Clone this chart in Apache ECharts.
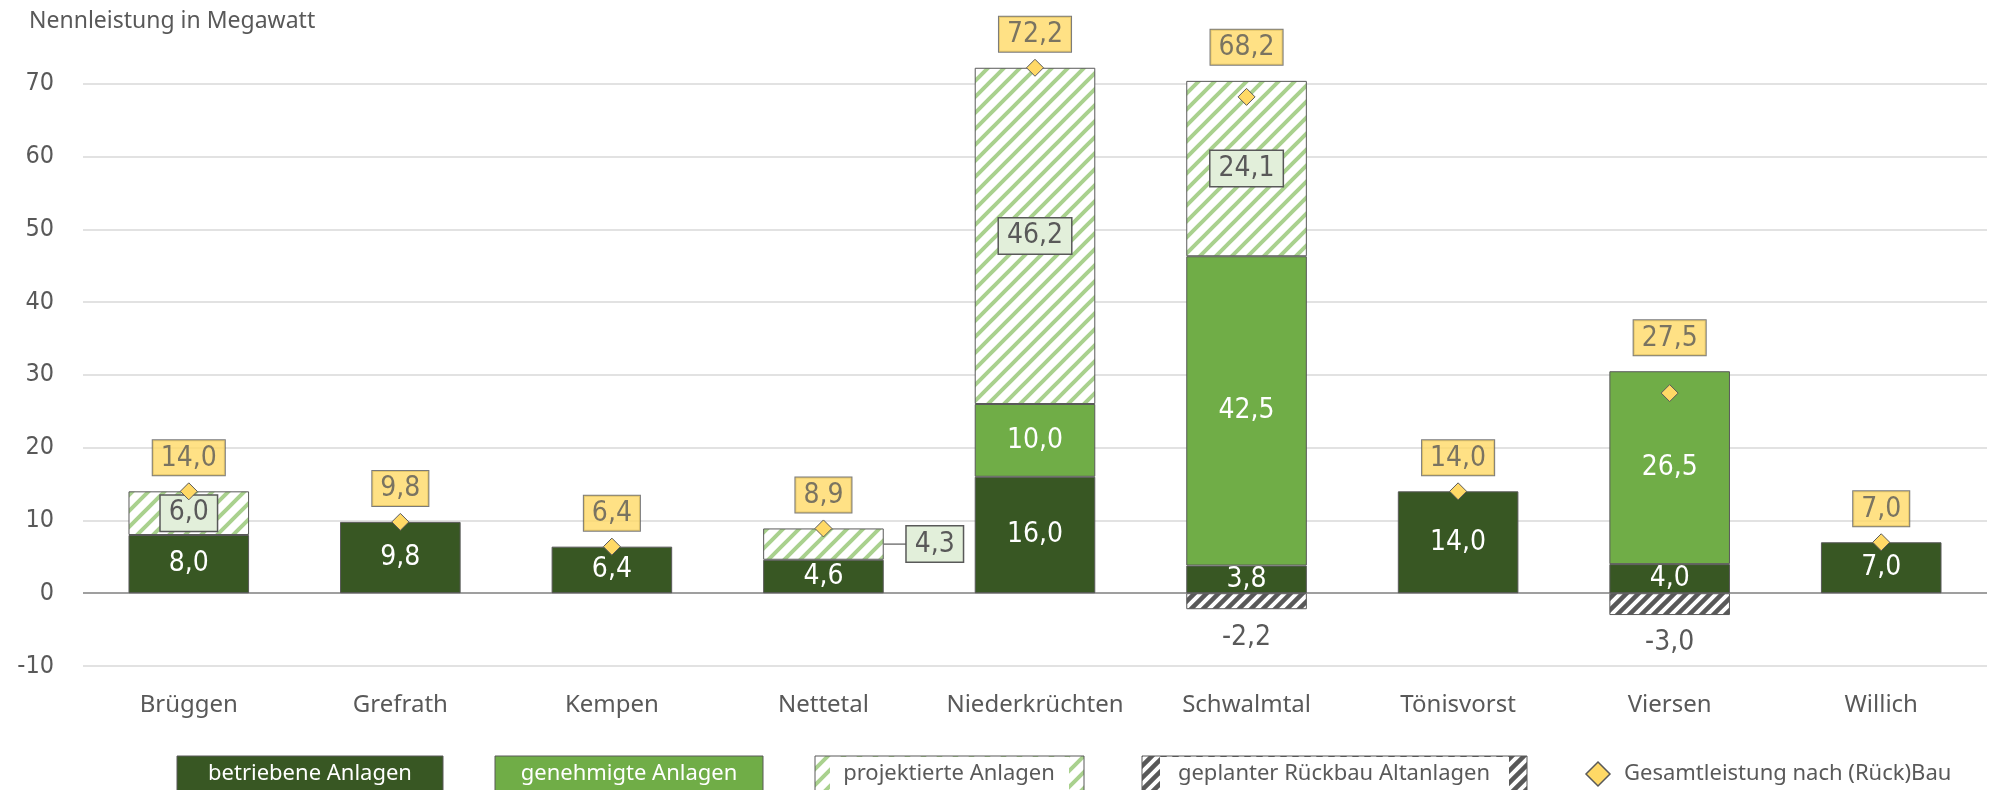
<!DOCTYPE html>
<html><head><meta charset="utf-8">
<script src="https://cdn.jsdelivr.net/npm/echarts@6/dist/echarts.min.js"></script>
<style>html,body{margin:0;padding:0;background:#fff}#c{width:1993px;height:790px}</style>
</head><body><div id="c"></div>
<script>
// ---- data ----
const categories = ['Brüggen','Grefrath','Kempen','Nettetal','Niederkrüchten','Schwalmtal','Tönisvorst','Viersen','Willich'];
const betrieben   = [8.0, 9.8, 6.4, 4.6, 16.0, 3.8, 14.0, 4.0, 7.0];
const genehmigt   = [null, null, null, null, 10.0, 42.5, null, 26.5, null];
const projektiert = [6.0, null, null, 4.3, 46.2, 24.1, null, null, null];
const rueckbau    = [null, null, null, null, null, -2.2, null, -3.0, null];
const gesamt      = [14.0, 9.8, 6.4, 8.9, 72.2, 68.2, 14.0, 27.5, 7.0];
const seriesNames = ['betriebene Anlagen','genehmigte Anlagen','projektierte Anlagen','geplanter Rückbau Altanlagen','Gesamtleistung nach (Rück)Bau'];
const yAxisTitle  = 'Nennleistung in Megawatt';
const yMin = -10, yMax = 80, yStep = 10;

// ---- styles ----
const DARK = '#385723', GREEN = '#70ad47', YELLOW = '#ffd966', LIGHT = '#e2efda', GRAY = '#595959';
const NUM = '"Liberation Sans Narrow", "DejaVu Sans Condensed", Roboto, sans-serif';
const TXT = '"Noto Sans", sans-serif';
const fmt = v => Number(v).toFixed(1).replace('.', ',');

function hatch(color, size, lw) {
  const c = document.createElement('canvas');
  c.width = c.height = size;
  const ctx = c.getContext('2d');
  ctx.fillStyle = '#fff'; ctx.fillRect(0, 0, size, size);
  ctx.strokeStyle = color; ctx.lineWidth = lw;
  ctx.beginPath();
  ctx.moveTo(-size/2, size/2); ctx.lineTo(size/2, -size/2);
  ctx.moveTo(0, size); ctx.lineTo(size, 0);
  ctx.moveTo(size/2, size*1.5); ctx.lineTo(size*1.5, size/2);
  ctx.stroke();
  return c;
}
const greenHatch = {image: hatch('#a9d18e', 16, 4), repeat: 'repeat'};
const grayHatch  = {image: hatch(GRAY, 12, 4.5), repeat: 'repeat'};

const stackTop = categories.map((_, i) => (betrieben[i] || 0) + (genehmigt[i] || 0) + (projektiert[i] || 0));

const chart = echarts.init(document.getElementById('c'), null, {renderer: 'canvas'});

const barBase = {
  type: 'bar', stack: 'a', barWidth: '57%',
  itemStyle: {borderColor: GRAY, borderWidth: 1},
  emphasis: {disabled: true}
};

const splitColors = [];
for (let v = yMin; v <= yMax; v += yStep) splitColors.push(v === 0 ? '#7f7f7f' : (v === yMax ? 'rgba(0,0,0,0)' : '#d9d9d9'));

const boxLabel = {backgroundColor: LIGHT, borderColor: GRAY, borderWidth: 1.5, padding: [4, 8, 3, 8],
  color: GRAY, fontFamily: NUM, fontSize: 28};

const option = {
  animation: false,
  title: {text: yAxisTitle, left: 24, top: 5,
    textStyle: {fontFamily: TXT, fontSize: 23, fontWeight: 'normal', color: GRAY}},
  grid: {left: 83, right: 6, top: 11, bottom: 124, containLabel: false},
  xAxis: {
    type: 'category', data: categories,
    axisLine: {show: false, onZero: false}, axisTick: {show: false},
    axisLabel: {interval: 0, margin: 27, fontFamily: TXT, fontSize: 24, color: GRAY}
  },
  yAxis: {
    type: 'value', min: yMin, max: yMax, interval: yStep,
    axisLine: {show: false}, axisTick: {show: false},
    axisLabel: {margin: 29, fontFamily: NUM, fontSize: 25, color: GRAY, showMaxLabel: false},
    splitLine: {show: true, showMaxLine: false, lineStyle: {color: splitColors, width: 1.5}}
  },
  series: [
    Object.assign({}, barBase, {
      name: seriesNames[0], data: betrieben,
      itemStyle: {color: DARK, borderColor: GRAY, borderWidth: 1},
      label: {show: true, position: 'inside', color: '#fff', fontFamily: NUM, fontSize: 28,
        formatter: p => fmt(p.value)}
    }),
    Object.assign({}, barBase, {
      name: seriesNames[1], data: genehmigt,
      itemStyle: {color: GREEN, borderColor: GRAY, borderWidth: 1},
      label: {show: true, position: 'inside', color: '#fff', fontFamily: NUM, fontSize: 28,
        formatter: p => fmt(p.value)}
    }),
    Object.assign({}, barBase, {
      name: seriesNames[2],
      data: projektiert.map(v => (v !== null && v < 5)
        ? {value: v, label: {position: 'right', distance: 0, backgroundColor: 'transparent', borderWidth: 0, padding: 0,
            formatter: p => '{l|}{b|' + fmt(p.value) + '}',
            rich: {l: {width: 23, height: 1.2, backgroundColor: GRAY}, b: boxLabel}}}
        : v),
      itemStyle: {color: greenHatch, borderColor: GRAY, borderWidth: 1},
      label: Object.assign({show: true, position: 'inside', formatter: p => fmt(p.value)}, boxLabel)
    }),
    Object.assign({}, barBase, {
      name: seriesNames[3], data: rueckbau,
      itemStyle: {color: grayHatch, borderColor: GRAY, borderWidth: 1},
      label: {show: true, position: 'bottom', distance: 14, color: GRAY, fontFamily: NUM, fontSize: 28,
        formatter: p => fmt(p.value)}
    }),
    {
      name: 'labels', type: 'scatter', data: stackTop, symbolSize: 0, silent: true, z: 5,
      label: {show: true, position: 'top', distance: 16, color: GRAY, fontFamily: NUM, fontSize: 28,
        backgroundColor: YELLOW, borderColor: GRAY, borderWidth: 1, padding: [4, 8, 3, 8],
        formatter: p => fmt(gesamt[p.dataIndex])}
    },
    {
      name: seriesNames[4], type: 'scatter', data: gesamt, symbol: 'diamond', symbolSize: 17, z: 6,
      itemStyle: {color: YELLOW, borderColor: GRAY, borderWidth: 1, opacity: 1},
      emphasis: {disabled: true}
    }
  ],
  graphic: [
    {type: 'rect', shape: {x: 177, y: 756, width: 266, height: 40}, style: {fill: DARK, stroke: GRAY, lineWidth: 1}},
    {type: 'text', x: 310, y: 774, style: {text: seriesNames[0], fill: '#fff', font: '22px ' + TXT, align: 'center', verticalAlign: 'middle'}},
    {type: 'rect', shape: {x: 495, y: 756, width: 268, height: 40}, style: {fill: GREEN, stroke: GRAY, lineWidth: 1}},
    {type: 'text', x: 629, y: 774, style: {text: seriesNames[1], fill: '#fff', font: '22px ' + TXT, align: 'center', verticalAlign: 'middle'}},
    {type: 'rect', shape: {x: 815, y: 756, width: 269, height: 40}, style: {fill: greenHatch, stroke: GRAY, lineWidth: 1}},
    {type: 'rect', shape: {x: 830, y: 757, width: 239, height: 38}, style: {fill: '#fff'}},
    {type: 'text', x: 949, y: 774, style: {text: seriesNames[2], fill: GRAY, font: '22px ' + TXT, align: 'center', verticalAlign: 'middle'}},
    {type: 'rect', shape: {x: 1142, y: 756, width: 385, height: 40}, style: {fill: grayHatch, stroke: GRAY, lineWidth: 1}},
    {type: 'rect', shape: {x: 1160, y: 757, width: 349, height: 38}, style: {fill: '#fff'}},
    {type: 'text', x: 1334, y: 774, style: {text: seriesNames[3], fill: GRAY, font: '22px ' + TXT, align: 'center', verticalAlign: 'middle'}},
    {type: 'polygon', shape: {points: [[1598, 762], [1610, 774], [1598, 786], [1586, 774]]}, style: {fill: YELLOW, stroke: GRAY, lineWidth: 1.5}},
    {type: 'text', x: 1624, y: 774, style: {text: seriesNames[4], fill: GRAY, font: '22px ' + TXT, align: 'left', verticalAlign: 'middle'}}
  ]
};
chart.setOption(option);
</script>
</body></html>
